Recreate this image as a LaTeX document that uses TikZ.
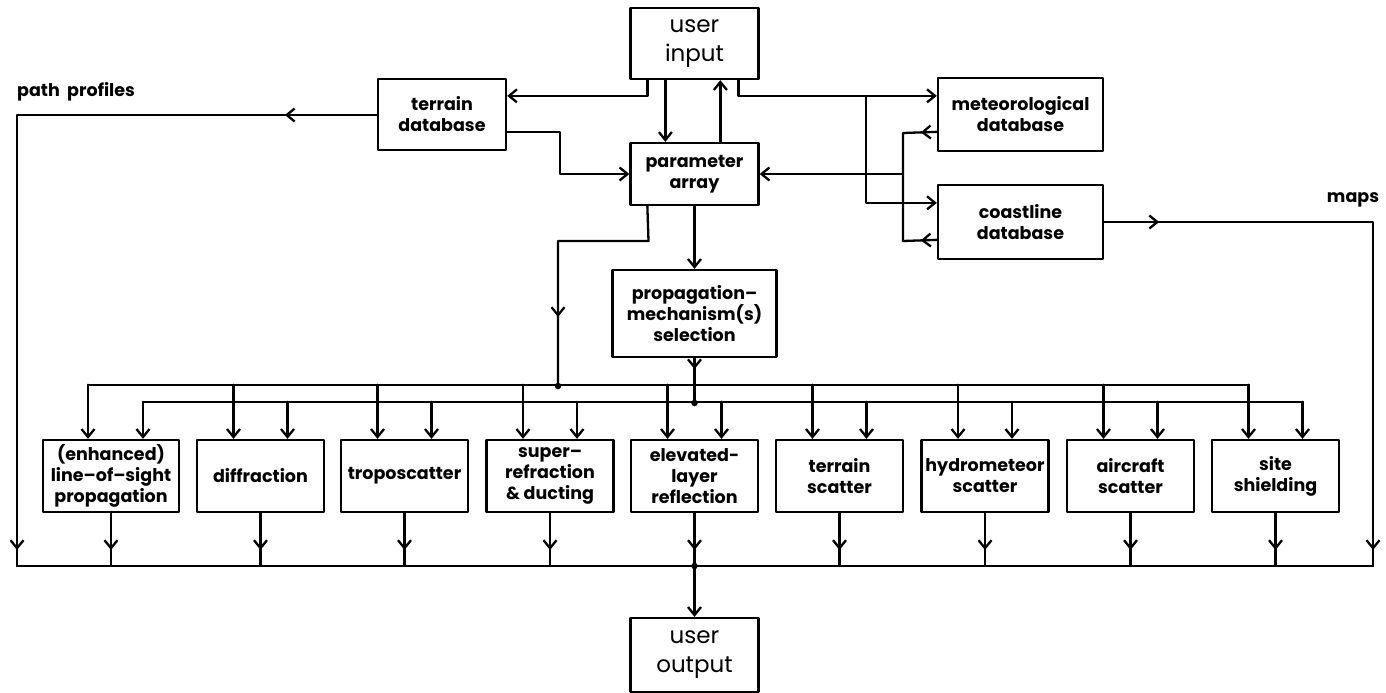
\documentclass[tikz,border=0pt]{standalone}
\usepackage{fontspec}
\setmainfont{Poppins}
\usetikzlibrary{arrows.meta,calc,decorations.markings}
\begin{document}
\begin{tikzpicture}[x=1pt,y=-1pt,
  line width=2.3pt, line cap=round, line join=round,
  arr/.style={-{Straight Barb[length=8pt,width=13pt]}},
  arrowat/.style={postaction={decorate,decoration={markings,
      mark=at position #1 with {\arrow{Straight Barb[length=8pt,width=13pt]}}}}},
  box/.style={draw, line width=2.3pt, inner sep=0pt, align=center,
      font=\bfseries\fontsize{17.5}{21}\selectfont},
  bigbox/.style={draw, line width=2.3pt, inner sep=0pt, align=center,
      font=\fontsize{23}{29}\selectfont},
  dot/.style={circle, fill, inner sep=0pt, minimum size=6.5pt},
  lbl/.style={font=\bfseries\fontsize{17.5}{20}\selectfont, inner sep=0pt}
]
\useasboundingbox (0,0) rectangle (1386,693);

% ---------- nodes ----------
\node[bigbox, minimum width=128pt, minimum height=71pt] (uin) at (694.5,43.5) {user\\input};
\node[box, minimum width=128pt, minimum height=71pt] (tdb) at (442,114.5) {terrain\\database};
\node[box, minimum width=128pt, minimum height=62pt] (par) at (694.5,174) {parameter\\array};
\node[box, minimum width=165pt, minimum height=73pt] (met) at (1020.5,114.5) {meteorological\\database};
\node[box, minimum width=165pt, minimum height=74pt] (cst) at (1020.5,222) {coastline\\database};
\node[box, minimum width=164pt, minimum height=87pt] (prop) at (694.5,313.5) {propagation–\\mechanism(s)\\selection};

\node[box, minimum width=136pt, minimum height=72pt] (b1) at (111,476) {(enhanced)\\line–of–sight\\propagation};
\node[box, minimum width=127pt, minimum height=72pt] (b2) at (260.5,476) {diffraction};
\node[box, minimum width=127pt, minimum height=72pt] (b3) at (404.5,476) {troposcatter};
\node[box, minimum width=127pt, minimum height=72pt] (b4) at (550,476) {super–\\refraction\\\& ducting};
\node[box, minimum width=127pt, minimum height=72pt] (b5) at (694.5,476) {elevated-\\layer\\reflection};
\node[box, minimum width=127pt, minimum height=72pt] (b6) at (839.5,476) {terrain\\scatter};
\node[box, minimum width=127pt, minimum height=72pt] (b7) at (985,476) {hydrometeor\\scatter};
\node[box, minimum width=127pt, minimum height=72pt] (b8) at (1130.5,476) {aircraft\\scatter};
\node[box, minimum width=127pt, minimum height=72pt] (b9) at (1275.5,476) {site\\shielding};

\node[bigbox, minimum width=128pt, minimum height=74pt] (uout) at (694.5,655) {user\\output};

\node[lbl, anchor=west] (lpp) at (16,92) {path\ \ profiles};
\node[lbl] (lmaps) at (1353,200) {maps};

% ---------- coordinates ----------
\coordinate (j1) at (866,97);
\coordinate (jm) at (903,133);
\coordinate (jp) at (903,174);
\coordinate (jc) at (903,241);
\coordinate (pp) at (17,115);
\coordinate (ob) at (17,566);
\coordinate (mp) at (1373,222);
\coordinate (oe) at (1373,566);
\coordinate (pa1) at (648.5,241);
\coordinate (pa2) at (558,241);
\node[dot] (da) at (558,386) {};
\node[dot] (db) at (694.5,403) {};
\node[dot] (dout) at (694.5,566) {};

% ---------- top connectors ----------
\draw[arr] ($(uin.south west)+(18,0)$) |- ($(tdb.north east)+(0,18)$);
\draw[arr] ($(uin.south west)+(36,0)$) -- ($(par.north west)+(36,0)$);
\draw[arr] ($(par.north west)+(91,0)$) -- ($(uin.south west)+(91,0)$);
\draw[arr] ($(uin.south west)+(109,0)$) |- ($(met.north west)+(0,19)$);
\draw[arr] (j1) |- ($(cst.north west)+(0,19)$);
\draw[arrowat=16pt] ($(met.north west)+(0,55)$) -- (jm) -- (jp);
\draw[arrowat=16pt] ($(cst.north west)+(0,56)$) -- (jc) -- (jp);
\draw[arr] (jp) -- (par.east |- jp);
\draw[arr] ($(tdb.north east)+(0,54)$) -- ++(53,0) |- (par.west);
\draw[arrowat=92pt, arrowat=-16pt] (tdb.west |- pp) -- (pp) -- (ob);
\draw[arrowat=55pt, arrowat=-16pt] (cst.east) -- (mp) -- (oe);

% ---------- middle ----------
\draw[arrowat=-69pt] ($(par.south west)+(18,0)$) -- (pa1) -- (pa2) -- (da.center);
\draw[arr] (par.south) -- (prop.north);
\draw[arrowat=11pt] (prop.south) -- (db.center);

% ---------- distribution buses ----------
\draw ($(b1.north)+(-23,-54)$) -- ($(b9.north)+(-26.5,-54)$);
\draw ($(b1.north)+(32,-37)$) -- ($(b9.north)+(27.5,-37)$);
\draw[arr] ($(b1.north)+(-23,-54)$) -- ($(b1.north)+(-23,0)$);
\draw[arr] ($(b1.north)+(32,-37)$) -- ($(b1.north)+(32,0)$);
\foreach \n in {b2,b3,b4,b5,b6,b7,b8,b9}{
  \draw[arr] ($(\n.north)+(-27,-54)$) -- ($(\n.north)+(-27,0)$);
  \draw[arr] ($(\n.north)+(27,-37)$) -- ($(\n.north)+(27,0)$);
}

% ---------- output bus ----------
\foreach \n in {b1,b2,b3,b4,b6,b7,b8,b9}{
  \draw[arrowat=-16pt] (\n.south) -- (\n.south |- ob);
}
\draw[arrowat=-16pt] (b5.south) -- (dout.center);
\draw (ob) -- (oe);
\draw[arr] (dout.center) -- (uout.north);
\end{tikzpicture}
\end{document}
